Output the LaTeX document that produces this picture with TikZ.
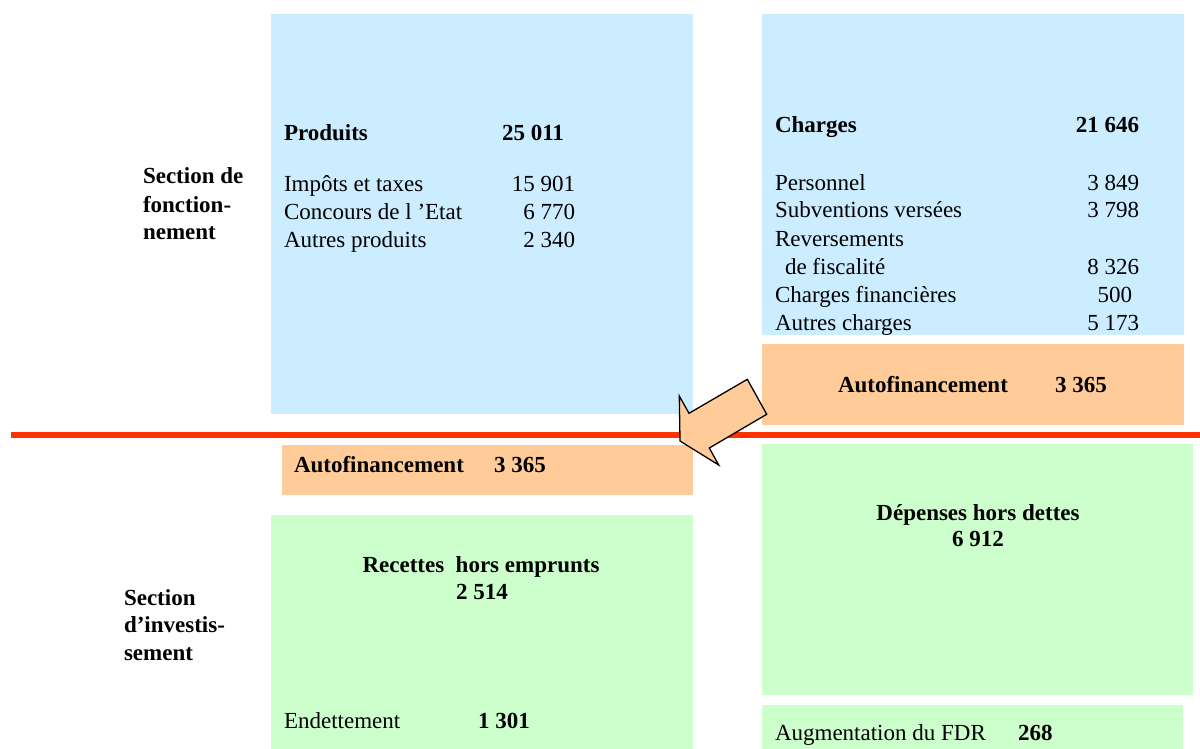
\documentclass[tikz,border=0pt]{standalone}
\usepackage{fontspec}
\setmainfont{Liberation Serif}
\definecolor{bluebox}{HTML}{CCECFF}
\definecolor{orangebox}{HTML}{FFCC99}
\definecolor{greenbox}{HTML}{CCFFCC}
\definecolor{redline}{HTML}{FF3300}
\begin{document}
\begin{tikzpicture}[x=1pt,y=-1pt,
  panel/.style={draw=none, inner sep=0pt, outer sep=0pt, anchor=north west},
  txt/.style={inner sep=0pt, outer sep=0pt, anchor=base west, font=\fontsize{23}{28}\selectfont},
  txtb/.style={txt, font=\fontsize{23}{28}\selectfont\bfseries},
  num/.style={txt, anchor=base east},
  ctrb/.style={txtb, anchor=base},
  blockarrow/.style={draw=black, fill=orangebox, line width=1.3pt, line join=miter}]
\useasboundingbox (0,0) rectangle (1200,749);
% panels
\node[panel, fill=bluebox, minimum width=422pt, minimum height=400pt] (prodbox) at (271,14) {};
\node[panel, fill=bluebox, minimum width=422pt, minimum height=321pt] (chargbox) at (762,14) {};
\node[panel, fill=orangebox, minimum width=422pt, minimum height=81pt] (autoR) at (762,344) {};
\node[panel, fill=orangebox, minimum width=411pt, minimum height=50pt] (autoL) at (282,445) {};
\node[panel, fill=greenbox, minimum width=422pt, minimum height=234pt] (recbox) at (271,515) {};
\node[panel, fill=greenbox, minimum width=431pt, minimum height=251pt] (depbox) at (762,444) {};
\node[panel, fill=greenbox, minimum width=421pt, minimum height=44pt] (fdrbox) at (762,705) {};
% red separator
\coordinate (redL) at (11,435);
\coordinate (redR) at (1200,435);
\draw[redline, line width=6pt] (redL) -- (redR);
% section labels
\node[txtb] (sf1) at (143,184) {Section de};
\node[txtb] (sf2) at (143,212) {fonction-};
\node[txtb] (sf3) at (143,239) {nement};
\node[txtb] (si1) at (124,605) {Section};
\node[txtb] (si2) at (124,632) {d’investis-};
\node[txtb] (si3) at (124,660) {sement};
% produits
\node[txtb] (prod) at (284,141) {Produits};
\node[txtb] (prodv) at (502,141) {25 011};
\node[txt] (imp) at (284,191) {Impôts et taxes};
\node[num] (impv) at (575,191) {15 901};
\node[txt] (conc) at (284,219) {Concours de l ’Etat};
\node[num] (concv) at (575,219) {6 770};
\node[txt] (autp) at (284,247) {Autres produits};
\node[num] (autpv) at (575,247) {2 340};
% charges
\node[txtb] (charg) at (775,133) {Charges};
\node[txtb, anchor=base east] (chargv) at (1139,133) {21 646};
\node[txt] (pers) at (775,190) {Personnel};
\node[num] (persv) at (1139,190) {3 849};
\node[txt] (subv) at (775,218) {Subventions versées};
\node[num] (subvv) at (1139,218) {3 798};
\node[txt] (rev) at (775,246) {Reversements};
\node[txt] (fisc) at (785,274) {de fiscalité};
\node[num] (fiscv) at (1139,274) {8 326};
\node[txt] (chfin) at (775,302) {Charges financières};
\node[num] (chfinv) at (1132,302) {500};
\node[txt] (autc) at (775,330) {Autres charges};
\node[num] (autcv) at (1139,330) {5 173};
% autofinancement
\node[txtb] (afR) at (838,392) {Autofinancement};
\node[txtb] (afRv) at (1055,392) {3 365};
\node[txtb] (afL) at (294,472) {Autofinancement};
\node[txtb] (afLv) at (494,472) {3 365};
% investissement
\node[ctrb] (rec) at (481,572) {Recettes\ \ hors emprunts};
\node[ctrb] (recv) at (482,599) {2 514};
\node[txt] (endt) at (284,728) {Endettement};
\node[txtb] (endtv) at (478,728) {1 301};
\node[ctrb] (dep) at (978,520) {Dépenses hors dettes};
\node[ctrb] (depv) at (978,546) {6 912};
\node[txt] (fdr) at (775,740) {Augmentation du FDR};
\node[txtb] (fdrv) at (1018,740) {268};
% block arrow
\draw[blockarrow] (680,441) -- (679.3,396) -- (689,413.3) -- (747.3,379.3)
  -- (766.7,414.3) -- (709.3,448) -- (718.7,465) -- cycle;
\end{tikzpicture}
\end{document}
